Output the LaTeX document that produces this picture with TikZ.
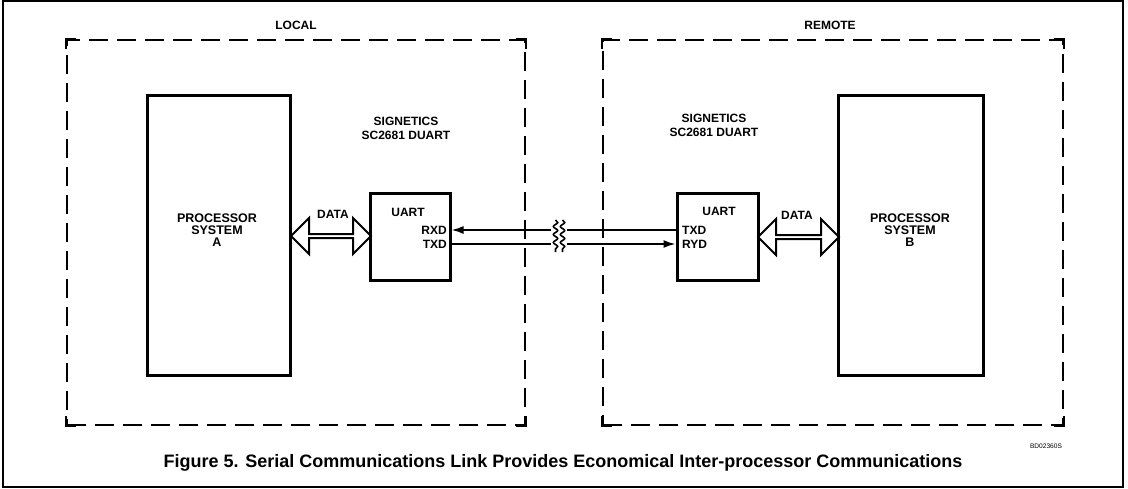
\documentclass[tikz,border=0pt]{standalone}
\usepackage{fontspec}
\setmainfont{Liberation Sans}
\usetikzlibrary{shapes.arrows,arrows.meta,decorations.pathmorphing,calc}
\begin{document}
\begin{tikzpicture}[x=1pt,y=-1pt,
  lbl/.style={font=\fontsize{12}{12}\selectfont\bfseries, inner sep=0pt, align=center},
  procbox/.style={draw, line width=3pt, minimum width=143pt, minimum height=280pt, inner sep=0pt},
  uartbox/.style={draw, line width=3pt, minimum width=80pt, minimum height=87pt, inner sep=0pt},
  dashbox/.style={draw, line width=2pt, dash pattern=on 19pt off 9pt, minimum width=458pt, minimum height=385pt, inner sep=0pt},
  dataarrow/.style={draw, line width=2pt, double arrow, double arrow head extend=8pt, minimum width=36pt, minimum height=80pt, inner sep=0pt, double arrow tip angle=90},
  sig/.style={line width=1.8pt},
  sigarrow/.style={sig, -{Latex[length=12pt,width=8pt]}},
  squiggle/.style={line width=1.6pt, decorate, decoration={snake, amplitude=2.2pt, segment length=8pt}},
  corner/.style={line width=2.2pt}
]
\useasboundingbox (0,0) rectangle (1128,488);
% outer frame
\draw[line width=1.5pt] (3,1) rectangle (1123,487);

% dashed boxes
\node[dashbox] (lbox) at (296,232.5) {};
\node[dashbox, minimum width=460pt] (rbox) at (833,232.5) {};
\foreach \b in {lbox,rbox}{
  \draw[corner] ($(\b.north west)+(0,10)$) -- (\b.north west) -- ($(\b.north west)+(10,0)$);
  \draw[corner] ($(\b.north east)+(0,10)$) -- (\b.north east) -- ($(\b.north east)+(-10,0)$);
  \draw[corner] ($(\b.south west)+(0,-10)$) -- (\b.south west) -- ($(\b.south west)+(10,0)$);
  \draw[corner] ($(\b.south east)+(0,-10)$) -- (\b.south east) -- ($(\b.south east)+(-10,0)$);
}
\node[lbl] (local) at (296,25) {LOCAL};
\node[lbl] (remote) at (830,25) {REMOTE};

% processor boxes
\node[procbox] (pa) at (218.5,235) {};
\node[procbox, minimum width=145pt] (pb) at (911,235) {};
\node[lbl, font=\fontsize{12.5}{12}\selectfont\bfseries] (pat) at (217,230) {PROCESSOR\\SYSTEM\\A};
\node[lbl, font=\fontsize{12.5}{12}\selectfont\bfseries] (pbt) at (910,230) {PROCESSOR\\SYSTEM\\B};

% UARTs
\node[uartbox] (ua) at (410,237) {};
\node[uartbox, minimum width=81pt] (ub) at (717.5,236.5) {};
\node[lbl, font=\fontsize{12}{14}\selectfont\bfseries] (sig1) at (406,128.5) {SIGNETICS\\SC2681 DUART};
\node[lbl, font=\fontsize{12}{14}\selectfont\bfseries] (sig2) at (714,125) {SIGNETICS\\SC2681 DUART};
\node[lbl] (uat) at (408,212) {UART};
\node[lbl] (ubt) at (719,211) {UART};
\node[lbl, anchor=east] (rxd) at (447,230) {RXD};
\node[lbl, anchor=east] (txda) at (447,244) {TXD};
\node[lbl, anchor=west] (txdb) at (682,230) {TXD};
\node[lbl, anchor=west] (rydb) at (682,244) {RYD};

% data arrows
\node[dataarrow] (da) at (331,236) {};
\node[dataarrow, minimum height=81pt] (db) at (798.5,237) {};
\node[lbl] (dat) at (333,214) {DATA};
\node[lbl] (dbt) at (797,215) {DATA};

% serial lines
\coordinate (b1l) at (551,230);
\coordinate (b1r) at (567,230);
\coordinate (b2l) at (551,244);
\coordinate (b2r) at (567,244);
\draw[sigarrow] (b1l) -- (ua.east |- b1l);
\draw[sig] (ub.west |- b1r) -- (b1r);
\draw[sig] (ua.east |- b2l) -- (b2l);
\draw[sigarrow] (b2r) -- (ub.west |- b2r);
\coordinate (s1t) at (555.5,220);
\coordinate (s1b) at (555.5,252);
\coordinate (s2t) at (562.5,220);
\coordinate (s2b) at (562.5,252);
\draw[squiggle] (s1t) -- (s1b);
\draw[squiggle] (s2t) -- (s2b);

% caption
\node[inner sep=0pt, font=\fontsize{6.6}{7}\selectfont] (code) at (1046,446.5) {BD02360S};
\node[inner sep=0pt, font=\fontsize{18}{18}\selectfont\bfseries] (cap) at (563,463) {Figure 5. Serial Communications Link Provides Economical Inter-processor Communications};
\end{tikzpicture}
\end{document}
